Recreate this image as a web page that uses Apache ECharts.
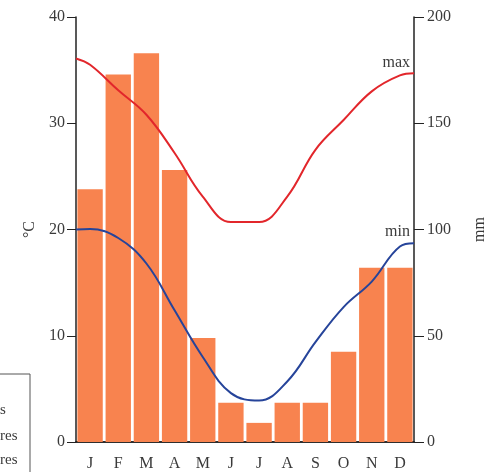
<!DOCTYPE html>
<html lang="en">
<head>
    <meta charset="UTF-8">
    <title>climate chart</title>
    <script type="text/javascript" src="https://cdn.jsdelivr.net/npm/echarts@6/dist/echarts.min.js"></script>
    <style>
        body{
            padding: 0px;
            margin: 0px;
            background-color: #ffffff;
        }
        #chart{
            width: 489px;
            height: 472px;
        }
    </style>
</head>
<body>
    <div id="chart"></div>
    <script>
    // months and rainfall (mm, right axis)
    var months = ['J', 'F', 'M', 'A', 'M', 'J', 'J', 'A', 'S', 'O', 'N', 'D'];
    var rainfall = [119, 173, 183, 128, 49, 18.5, 9, 18.5, 18.5, 42.5, 82, 82];

    // temperature curves (°C, left axis), read at month centres
    var maxTemp = [35.5, 33.1, 30.8, 27.2, 23.1, 20.7, 20.7, 23.1, 27.5, 30.3, 33.0, 34.5];
    var minTemp = [20.05, 19.2, 16.8, 12.4, 8.0, 4.6, 3.9, 5.7, 9.4, 12.7, 15.1, 18.4];
    // values where the curves meet the left and right axes
    var maxEdges = [36.1, 34.7];
    var minEdges = [20.0, 18.7];

    var leftTicks = [0, 10, 20, 30, 40];
    var rightTicks = [0, 50, 100, 150, 200];

    function curve(vals, edges) {
        var pts = [[0, edges[0]]];
        for (var i = 0; i < vals.length; i++) pts.push([i + 0.5, vals[i]]);
        pts.push([vals.length, edges[1]]);
        return pts;
    }

    var serif = 'Liberation Serif';
    var ink = '#222';
    var txt = '#3a3a3a';

    var chart = echarts.init(document.getElementById('chart'), null, {renderer: 'canvas'});
    chart.setOption({
        animation: false,
        grid: {left: 76, right: 75, top: 17, bottom: 30, outerBoundsMode: 'none'},
        xAxis: [{
            type: 'category',
            data: months,
            boundaryGap: true,
            axisLine: {lineStyle: {color: ink, width: 1.5}},
            axisTick: {show: false},
            axisLabel: {color: txt, fontFamily: serif, fontSize: 16, margin: 14}
        }, {
            type: 'value',
            position: 'top',
            min: 0,
            max: months.length,
            axisLine: {show: true, lineStyle: {color: ink, width: 1.5}},
            axisTick: {show: false},
            axisLabel: {show: false},
            splitLine: {show: false}
        }],
        yAxis: [{
            type: 'value',
            name: '°C',
            nameLocation: 'middle',
            nameRotate: 90,
            nameGap: 36,
            nameTextStyle: {color: txt, fontFamily: serif, fontSize: 16},
            min: leftTicks[0],
            max: leftTicks[leftTicks.length - 1],
            interval: 10,
            axisLine: {show: true, lineStyle: {color: ink, width: 1.5}},
            axisTick: {show: true, length: 9, lineStyle: {color: ink}},
            axisLabel: {color: txt, fontFamily: serif, fontSize: 16, margin: 11},
            splitLine: {show: false}
        }, {
            type: 'value',
            name: 'mm',
            nameLocation: 'middle',
            nameRotate: 90,
            nameGap: 58,
            nameTextStyle: {color: txt, fontFamily: serif, fontSize: 16},
            min: rightTicks[0],
            max: rightTicks[rightTicks.length - 1],
            interval: 50,
            axisLine: {show: true, lineStyle: {color: ink, width: 1.5}},
            axisTick: {show: true, length: 10, lineStyle: {color: ink}},
            axisLabel: {color: txt, fontFamily: serif, fontSize: 16, margin: 13},
            splitLine: {show: false}
        }],
        series: [{
            type: 'bar',
            name: 'rainfall',
            xAxisIndex: 0,
            yAxisIndex: 1,
            data: rainfall,
            barCategoryGap: '10%',
            itemStyle: {color: '#f8834f'}
        }, {
            type: 'line',
            name: 'max',
            xAxisIndex: 1,
            yAxisIndex: 0,
            data: curve(maxTemp, maxEdges),
            smooth: 0.4,
            showSymbol: false,
            lineStyle: {color: '#e2262b', width: 2},
            endLabel: {
                show: true, formatter: '{a}', align: 'right', verticalAlign: 'bottom',
                offset: [-12, -3], color: txt, fontFamily: serif, fontSize: 16
            }
        }, {
            type: 'line',
            name: 'min',
            xAxisIndex: 1,
            yAxisIndex: 0,
            data: curve(minTemp, minEdges),
            smooth: 0.4,
            showSymbol: false,
            lineStyle: {color: '#26449a', width: 2},
            endLabel: {
                show: true, formatter: '{a}', align: 'right', verticalAlign: 'bottom',
                offset: [-12, -4], color: txt, fontFamily: serif, fontSize: 16
            }
        }],
        graphic: [{
            type: 'rect',
            shape: {x: -2, y: 374, width: 32, height: 110},
            style: {fill: 'none', stroke: '#555', lineWidth: 1}
        }, {
            type: 'text', x: 0, y: 403,
            style: {text: 's', fill: txt, font: '15px "Liberation Serif"'}
        }, {
            type: 'text', x: 0, y: 429,
            style: {text: 'res', fill: txt, font: '15px "Liberation Serif"'}
        }, {
            type: 'text', x: 0, y: 453,
            style: {text: 'res', fill: txt, font: '15px "Liberation Serif"'}
        }]
    });
    </script>
</body>
</html>
